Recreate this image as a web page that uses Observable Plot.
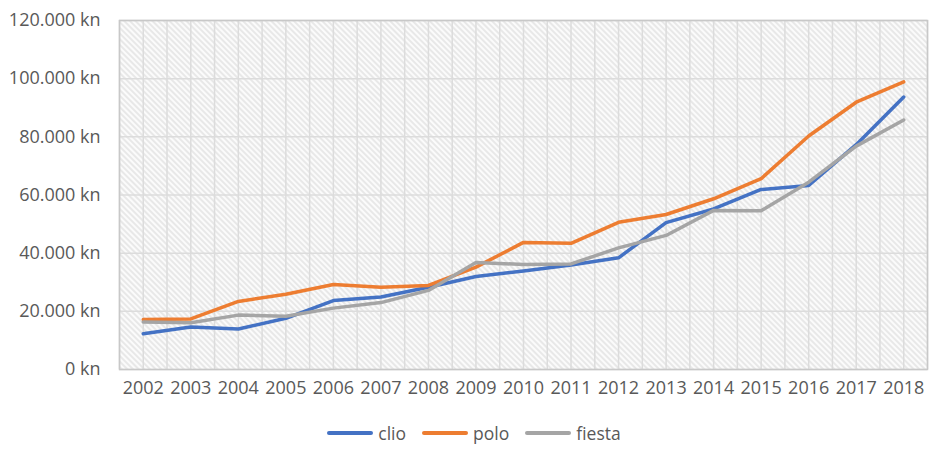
<!DOCTYPE html>
<html>
<head>
<meta charset="utf-8">
<script src="https://cdn.jsdelivr.net/npm/d3@7"></script>
<script src="https://cdn.jsdelivr.net/npm/@observablehq/plot@0.6"></script>
<style>
  html, body { margin: 0; padding: 0; background: #fff; }
  #chart svg { display: block; }
  .legend { display: flex; justify-content: center; align-items: center; gap: 16px;
    font-family: "Open Sans", sans-serif; font-size: 17.5px; color: #595959; margin-top: 21px; margin-left: 8px; }
  .legend .item { display: flex; align-items: center; gap: 5px; }
  .legend .sw { width: 46px; height: 4px; border-radius: 2px; }
</style>
</head>
<body>
<div id="chart"></div>
<script>
const years = [2002,2003,2004,2005,2006,2007,2008,2009,2010,2011,2012,2013,2014,2015,2016,2017,2018];
const clio   = [12300,14600,13900,17600,23700,24900,28300,32000,33900,35900,38400,50500,55200,61900,63300,77300,93700];
const polo   = [17200,17400,23400,25900,29200,28300,28900,35200,43700,43400,50600,53300,58700,65600,80300,91900,98900];
const fiesta = [16300,16100,18700,18300,21100,23000,27200,36800,36100,36300,41800,46100,54700,54600,64400,76800,85800];
const seriesNames = ["clio", "polo", "fiesta"];
const seriesColors = ["#4472C4", "#ED7D31", "#A5A5A5"];
const yTicks = [0, 20000, 40000, 60000, 80000, 100000, 120000];

const data = [];
[clio, polo, fiesta].forEach((vals, s) => {
  vals.forEach((v, i) => data.push({year: years[i], value: v, series: seriesNames[s]}));
});
const xGrid = years.flatMap(y => [y - 0.5, y]).concat([years[years.length - 1] + 0.5]);
const fmt = d => (d === 0 ? "0" : d3.format(",")(d).replace(/,/g, ".")) + " kn";

const chart = Plot.plot({
  width: 940,
  height: 400,
  marginTop: 20,
  marginBottom: 31,
  marginLeft: 119,
  marginRight: 13,
  style: {fontFamily: "'Open Sans', sans-serif", fontSize: "18px", color: "#595959", background: "#fff"},
  x: {type: "linear", domain: [years[0] - 0.5, years[years.length - 1] + 0.5]},
  y: {domain: [0, 120000]},
  color: {domain: seriesNames, range: seriesColors},
  marks: [
    Plot.frame({fill: "url(#hatch)", stroke: null}),
    Plot.gridX(xGrid, {stroke: "#dcdcdc", strokeOpacity: 1, strokeWidth: 1.5}),
    Plot.gridY(yTicks, {stroke: "#dcdcdc", strokeOpacity: 1, strokeWidth: 1.5}),
    Plot.frame({stroke: "#c8c8c8", strokeWidth: 1.5}),
    Plot.axisY(yTicks, {tickSize: 0, tickPadding: 19, tickFormat: fmt, fill: "#595959", label: null}),
    Plot.axisX(years, {tickSize: 0, tickPadding: 12, tickFormat: d => String(d), fill: "#595959", label: null}),
    Plot.line(data, {x: "year", y: "value", z: "series", stroke: "series", strokeWidth: 3.5, strokeLinejoin: "round", strokeLinecap: "round"})
  ]
});

const defs = d3.select(chart).insert("defs", ":first-child");
const pat = defs.append("pattern")
  .attr("id", "hatch").attr("patternUnits", "userSpaceOnUse")
  .attr("width", 4).attr("height", 4).attr("patternTransform", "rotate(-45)");
pat.append("rect").attr("width", 4).attr("height", 4).attr("fill", "#fbfbfb");
pat.append("line").attr("x1", 1).attr("y1", 0).attr("x2", 1).attr("y2", 4)
  .attr("stroke", "#d6d6d6").attr("stroke-width", 1);

document.getElementById("chart").appendChild(chart);

const legend = document.createElement("div");
legend.className = "legend";
seriesNames.forEach((n, i) => {
  const it = document.createElement("div");
  it.className = "item";
  const sw = document.createElement("span");
  sw.className = "sw";
  sw.style.background = seriesColors[i];
  const t = document.createElement("span");
  t.textContent = n;
  it.appendChild(sw); it.appendChild(t);
  legend.appendChild(it);
});
document.body.appendChild(legend);
</script>
</body>
</html>
